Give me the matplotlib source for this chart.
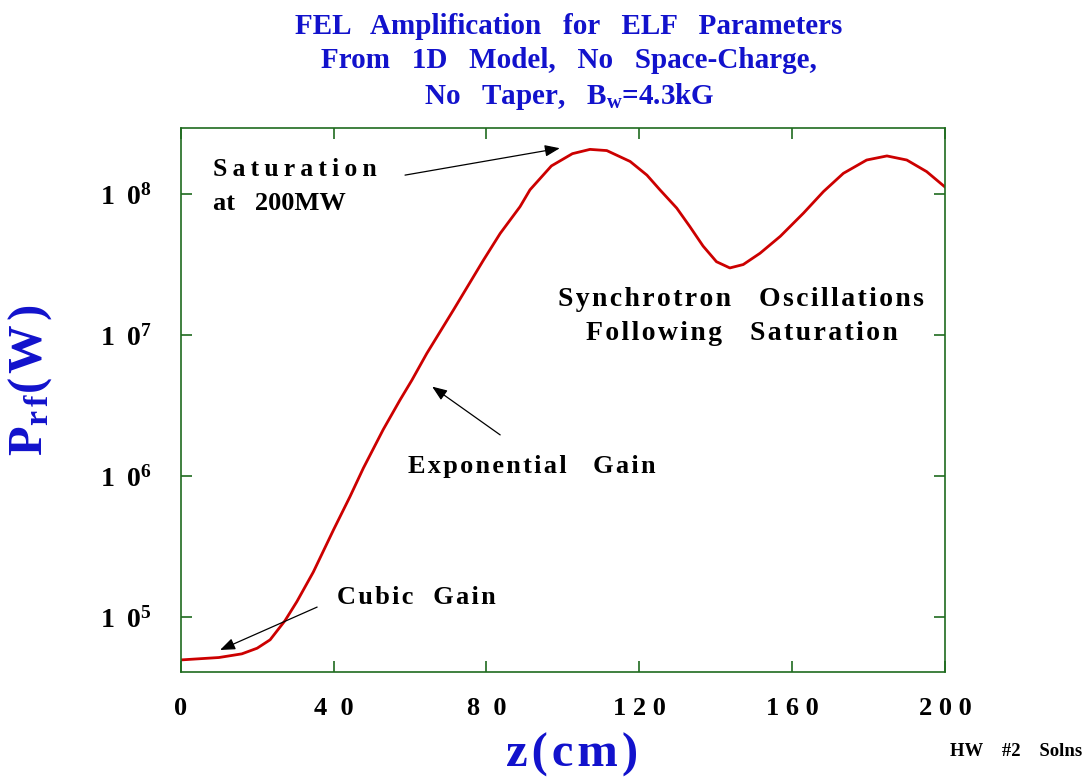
import math

import matplotlib
matplotlib.use("Agg")
import matplotlib.pyplot as plt
from matplotlib.ticker import FixedLocator, FuncFormatter

plt.rcParams["font.family"] = ["Liberation Serif", "DejaVu Serif"]
plt.rcParams["font.weight"] = "bold"
plt.rcParams["mathtext.fontset"] = "custom"
plt.rcParams["mathtext.rm"] = "Liberation Serif:bold"
plt.rcParams["mathtext.bf"] = "Liberation Serif:bold"
plt.rcParams["mathtext.it"] = "Liberation Serif:bold"

# z along the wiggler (cm) and rf power (W)
z_cm = [0, 10, 16, 20, 23.4, 27.3, 30.4, 34.7, 40, 44.3, 47.8, 53, 57.4, 60.5,
        64.4, 71.4, 79.2, 83.6, 88.8, 91.4, 97, 102.5, 107.1, 111.5, 117.6, 122,
        125.4, 129.8, 133.2, 136.7, 140.2, 143.7, 147.2, 151.6, 156.9, 163,
        168.2, 173.4, 179.5, 184.8, 190, 195.2, 200]
p_rf = [4.98e4, 5.18e4, 5.50e4, 6.03e4, 6.92e4, 9.46e4, 1.29e5, 2.09e5, 4.17e5,
        7.16e5, 1.14e6, 2.14e6, 3.47e6, 4.79e6, 7.41e6, 1.51e7, 3.39e7, 5.25e7,
        8.13e7, 1.07e8, 1.58e8, 1.93e8, 2.07e8, 2.03e8, 1.70e8, 1.36e8, 1.07e8,
        7.94e7, 5.89e7, 4.27e7, 3.31e7, 2.99e7, 3.16e7, 3.80e7, 5.01e7, 7.33e7,
        1.04e8, 1.40e8, 1.74e8, 1.86e8, 1.74e8, 1.44e8, 1.12e8]

x_ticks = [0, 40, 80, 120, 160, 200]
x_tick_labels = ["0", "4  0", "8  0", "1 2 0", "1 6 0", "2 0 0"]
y_ticks = [1e5, 1e6, 1e7, 1e8]

W, H = 1087, 780
BLUE = "#1212cc"
GREEN = "#1f6b1f"
THIN = "\u2009"
HAIR = "\u200a"


def track(s, sp):
    # crude letter spacing: pad every character with a narrow space
    return sp.join(s)


def px(x, y):
    return x / W, 1 - y / H


fig = plt.figure(figsize=(W / 100, H / 100), dpi=100)
ax = fig.add_axes([180.7 / W, 1 - 672.3 / H, (945 - 180.7) / W, (672.3 - 128.3) / H])

ax.plot(z_cm, p_rf, color="#cc0000", lw=2.0)
ax.set_yscale("log")
ax.set_xlim(0, 200)
ax.set_ylim(4.07e4, 2.92e8)

for s in ax.spines.values():
    s.set_color(GREEN)
    s.set_linewidth(1.2)
ax.xaxis.set_major_locator(FixedLocator(x_ticks))
ax.set_xticklabels(x_tick_labels)
ax.yaxis.set_major_locator(FixedLocator(y_ticks))
ax.yaxis.set_minor_locator(FixedLocator([]))
ax.yaxis.set_major_formatter(FuncFormatter(lambda v, p: "1 " + THIN + "0$^{%d}$" % round(math.log10(v))))
ax.tick_params(which="major", direction="in", length=8, width=1.2, color=GREEN,
               top=True, right=True)
ax.tick_params(axis="x", pad=18, labelsize=19)
ax.tick_params(axis="y", pad=21, labelsize=20)

# title
for txt, yy in [("FEL   Amplification   for   ELF   Parameters", 26),
                ("From   1D   Model,   No   Space-Charge,", 61),
                (r"No   Taper,   B$_{\mathrm{w}}$=4.3kG", 97)]:
    fig.text(*px(569, yy), txt, ha="center", va="center", color=BLUE, fontsize=21)

# axis labels
fig.text(*px(572, 755), track("z(cm)", HAIR), ha="center", va="center", color=BLUE, fontsize=35)
fig.text(*px(30, 380), r"P$_{\mathrm{r\,f}}$" + track("(W)", HAIR),
         ha="center", va="center", color=BLUE, fontsize=35, rotation=90)
fig.text(*px(1082, 752), "HW    #2    Solns", ha="right", va="center", fontsize=13.5)

# annotations
fig.text(*px(213, 170), track("Saturation", THIN), ha="left", va="center", fontsize=18.5)
fig.text(*px(213, 203), "at   200MW", ha="left", va="center", fontsize=19)
fig.text(*px(741, 299), track("Synchrotron", HAIR) + "    " + track("Oscillations", HAIR),
         ha="center", va="center", fontsize=20)
fig.text(*px(742, 334), track("Following", HAIR) + "    " + track("Saturation", HAIR),
         ha="center", va="center", fontsize=20)
fig.text(*px(408, 466), track("Exponential", HAIR) + "    " + track("Gain", HAIR),
         ha="left", va="center", fontsize=19)
fig.text(*px(337, 598), track("Cubic", HAIR) + "   " + track("Gain", HAIR),
         ha="left", va="center", fontsize=19)

arrow = dict(arrowstyle="-|>,head_length=0.9,head_width=0.35", color="black", lw=0.9,
             shrinkA=0, shrinkB=0)
ax.annotate("", xy=(99.2, 2.11e8), xytext=(58.7, 1.36e8), arrowprops=arrow)
ax.annotate("", xy=(65.8, 4.31e6), xytext=(83.6, 1.96e6), arrowprops=arrow)
ax.annotate("", xy=(10.3, 5.86e4), xytext=(35.7, 1.18e5), arrowprops=arrow)

fig.savefig("out.png", dpi=100)
